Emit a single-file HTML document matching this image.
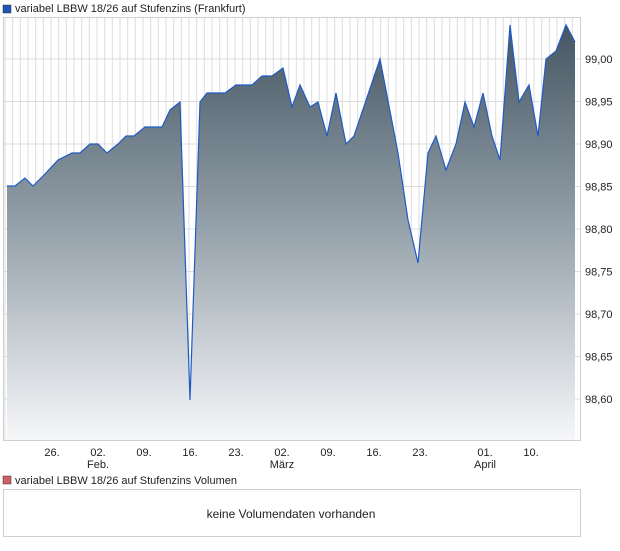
<!DOCTYPE html>
<html><head><meta charset="utf-8"><style>
body{margin:0;background:#fff;width:620px;height:546px;overflow:hidden;font-family:"Liberation Sans",sans-serif;}
</style></head><body>
<svg width="620" height="546" xmlns="http://www.w3.org/2000/svg" font-family="Liberation Sans, sans-serif">
<defs>
<linearGradient id="g" x1="0" y1="20" x2="0" y2="440" gradientUnits="userSpaceOnUse">
<stop offset="0" stop-color="#435460"/><stop offset="0.45" stop-color="#8d9aa4"/><stop offset="1" stop-color="#f6f7f9"/>
</linearGradient>
</defs>
<rect x="3" y="5" width="8" height="8" fill="#1f55b8" stroke="#333" stroke-width="0.5"/>
<text x="15" y="12" font-size="11" fill="#222">variabel LBBW 18/26 auf Stufenzins (Frankfurt)</text>
<g stroke="#dcdcdc" stroke-width="1">
<line x1="4" y1="59" x2="580" y2="59"/><line x1="4" y1="144" x2="580" y2="144"/><line x1="4" y1="229" x2="580" y2="229"/><line x1="4" y1="314" x2="580" y2="314"/><line x1="4" y1="399" x2="580" y2="399"/>
<line x1="4" y1="101.5" x2="580" y2="101.5"/><line x1="4" y1="186.5" x2="580" y2="186.5"/><line x1="4" y1="271.5" x2="580" y2="271.5"/><line x1="4" y1="356.5" x2="580" y2="356.5"/>
</g>
<g stroke="#dcdcdc" stroke-width="1">
<line x1="5" y1="18" x2="5" y2="440"/><line x1="12.7" y1="18" x2="12.7" y2="440"/><line x1="20.3" y1="18" x2="20.3" y2="440"/><line x1="28" y1="18" x2="28" y2="440"/><line x1="35.7" y1="18" x2="35.7" y2="440"/><line x1="43.3" y1="18" x2="43.3" y2="440"/><line x1="51" y1="18" x2="51" y2="440"/><line x1="58.7" y1="18" x2="58.7" y2="440"/><line x1="66.3" y1="18" x2="66.3" y2="440"/><line x1="74" y1="18" x2="74" y2="440"/><line x1="81.7" y1="18" x2="81.7" y2="440"/><line x1="89.3" y1="18" x2="89.3" y2="440"/><line x1="97" y1="18" x2="97" y2="440"/><line x1="104.7" y1="18" x2="104.7" y2="440"/><line x1="112.3" y1="18" x2="112.3" y2="440"/><line x1="120" y1="18" x2="120" y2="440"/><line x1="127.7" y1="18" x2="127.7" y2="440"/><line x1="135.3" y1="18" x2="135.3" y2="440"/><line x1="143" y1="18" x2="143" y2="440"/><line x1="150.7" y1="18" x2="150.7" y2="440"/><line x1="158.3" y1="18" x2="158.3" y2="440"/><line x1="166" y1="18" x2="166" y2="440"/><line x1="173.7" y1="18" x2="173.7" y2="440"/><line x1="181.3" y1="18" x2="181.3" y2="440"/><line x1="189" y1="18" x2="189" y2="440"/><line x1="196.7" y1="18" x2="196.7" y2="440"/><line x1="204.3" y1="18" x2="204.3" y2="440"/><line x1="212" y1="18" x2="212" y2="440"/><line x1="219.7" y1="18" x2="219.7" y2="440"/><line x1="227.3" y1="18" x2="227.3" y2="440"/><line x1="235" y1="18" x2="235" y2="440"/><line x1="242.7" y1="18" x2="242.7" y2="440"/><line x1="250.3" y1="18" x2="250.3" y2="440"/><line x1="258" y1="18" x2="258" y2="440"/><line x1="265.7" y1="18" x2="265.7" y2="440"/><line x1="273.3" y1="18" x2="273.3" y2="440"/><line x1="281" y1="18" x2="281" y2="440"/><line x1="288.7" y1="18" x2="288.7" y2="440"/><line x1="296.3" y1="18" x2="296.3" y2="440"/><line x1="304" y1="18" x2="304" y2="440"/><line x1="311.7" y1="18" x2="311.7" y2="440"/><line x1="319.3" y1="18" x2="319.3" y2="440"/><line x1="327" y1="18" x2="327" y2="440"/><line x1="334.7" y1="18" x2="334.7" y2="440"/><line x1="342.3" y1="18" x2="342.3" y2="440"/><line x1="350" y1="18" x2="350" y2="440"/><line x1="357.7" y1="18" x2="357.7" y2="440"/><line x1="365.3" y1="18" x2="365.3" y2="440"/><line x1="373" y1="18" x2="373" y2="440"/><line x1="380.7" y1="18" x2="380.7" y2="440"/><line x1="388.3" y1="18" x2="388.3" y2="440"/><line x1="396" y1="18" x2="396" y2="440"/><line x1="403.7" y1="18" x2="403.7" y2="440"/><line x1="411.3" y1="18" x2="411.3" y2="440"/><line x1="419" y1="18" x2="419" y2="440"/><line x1="426.7" y1="18" x2="426.7" y2="440"/><line x1="434.3" y1="18" x2="434.3" y2="440"/><line x1="442" y1="18" x2="442" y2="440"/><line x1="449.7" y1="18" x2="449.7" y2="440"/><line x1="457.3" y1="18" x2="457.3" y2="440"/><line x1="465" y1="18" x2="465" y2="440"/><line x1="472.7" y1="18" x2="472.7" y2="440"/><line x1="480.3" y1="18" x2="480.3" y2="440"/><line x1="488" y1="18" x2="488" y2="440"/><line x1="495.7" y1="18" x2="495.7" y2="440"/><line x1="503.3" y1="18" x2="503.3" y2="440"/><line x1="511" y1="18" x2="511" y2="440"/><line x1="518.7" y1="18" x2="518.7" y2="440"/><line x1="526.3" y1="18" x2="526.3" y2="440"/><line x1="534" y1="18" x2="534" y2="440"/><line x1="541.7" y1="18" x2="541.7" y2="440"/><line x1="549.3" y1="18" x2="549.3" y2="440"/><line x1="557" y1="18" x2="557" y2="440"/><line x1="564.7" y1="18" x2="564.7" y2="440"/><line x1="572.3" y1="18" x2="572.3" y2="440"/>
</g>
<polygon fill="url(#g)" points="7,440 7,186 15,186 25,178 33,186 45,174 58,160 72,153 80,153 90,144 98,144 107,153 118,144 126,136 134,136 145,127 162,127 170,110 180,102 190,400 200,102 207,93 225,93 236,85 252,85 262,76 272,76 283,68 292,107 300,85 310,107 318,102 327,136 336,93 346,144 354,136 380,59 398,153 408,220 418,263 428,153 436,136 446,170 456,144 465,102 474,127 483,93 492,136 500,160 510,25 519,102 529,85 538,136 546,59 556,51 566,25 575,42 575,440"/>
<polyline fill="none" stroke="#1f5bc6" stroke-width="1.2" points="7,186 15,186 25,178 33,186 45,174 58,160 72,153 80,153 90,144 98,144 107,153 118,144 126,136 134,136 145,127 162,127 170,110 180,102 190,400 200,102 207,93 225,93 236,85 252,85 262,76 272,76 283,68 292,107 300,85 310,107 318,102 327,136 336,93 346,144 354,136 380,59 398,153 408,220 418,263 428,153 436,136 446,170 456,144 465,102 474,127 483,93 492,136 500,160 510,25 519,102 529,85 538,136 546,59 556,51 566,25 575,42"/>
<rect x="3.5" y="17.5" width="577" height="423" fill="none" stroke="#cfcfcf"/>
<g font-size="11" fill="#222">
<text x="585" y="63">99,00</text><text x="585" y="148">98,90</text><text x="585" y="233">98,80</text><text x="585" y="318">98,70</text><text x="585" y="403">98,60</text>
<text x="585" y="105.5">98,95</text><text x="585" y="190.5">98,85</text><text x="585" y="275.5">98,75</text><text x="585" y="360.5">98,65</text>
</g>
<g font-size="11" fill="#222" text-anchor="middle">
<text x="52" y="456">26.</text><text x="98" y="456">02.</text><text x="144" y="456">09.</text><text x="190" y="456">16.</text><text x="236" y="456">23.</text><text x="282" y="456">02.</text><text x="328" y="456">09.</text><text x="374" y="456">16.</text><text x="420" y="456">23.</text><text x="485" y="456">01.</text><text x="531" y="456">10.</text>
<text x="98" y="468">Feb.</text><text x="282" y="468">März</text><text x="485" y="468">April</text>
</g>
<rect x="3" y="476" width="8" height="8" fill="#d06060" stroke="#333" stroke-width="0.5"/>
<text x="15" y="484" font-size="11" fill="#222">variabel LBBW 18/26 auf Stufenzins Volumen</text>
<rect x="3.5" y="489.5" width="577" height="47" fill="none" stroke="#cfcfcf"/>
<text x="291" y="518" font-size="12" fill="#222" text-anchor="middle">keine Volumendaten vorhanden</text>
</svg>
</body></html>
